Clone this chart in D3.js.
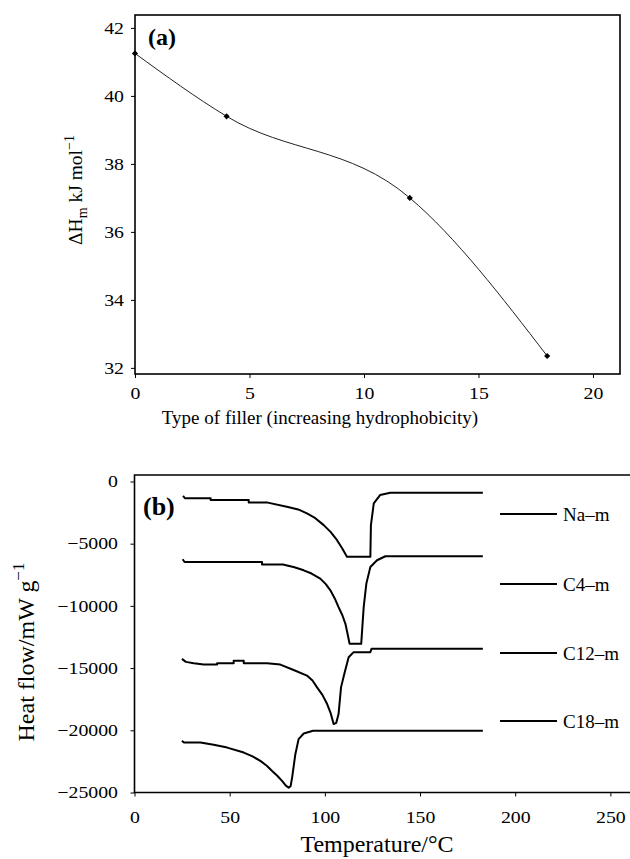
<!DOCTYPE html>
<html>
<head>
<meta charset="utf-8">
<script src="https://cdn.jsdelivr.net/npm/d3@7"></script>
<style>
  body { margin: 0; background: #fff; }
  svg text { font-family: "Liberation Serif", "Times New Roman", serif; fill: #000; }
</style>
</head>
<body>
<div id="chart"></div>
<script>
// panel (a): melting enthalpy vs filler type
const fillerType = [0, 4, 12, 18]
const deltaH = [41.25, 39.4, 37.0, 32.35]
const aTicksX = [0, 5, 10, 15, 20]
const aTicksY = [32, 34, 36, 38, 40, 42]

// panel (b): DSC traces, [temperature, heat flow]
const seriesNames = ['Na–m', 'C4–m', 'C12–m', 'C18–m']
const naM = [[25.5, -1150], [26.5, -1350], [40, -1350], [40, -1490], [60, -1490], [60, -1700], [70, -1700],
  [80, -2030], [86, -2250], [90.6, -2570], [95, -2950], [99.4, -3510], [103, -4050], [106.4, -4720], [109, -5350],
  [111.6, -6060], [123.9, -6060], [124.2, -3500], [125.7, -1760], [129, -1090], [134.4, -900], [183, -900]]
const c4M = [[25.3, -6250], [26.3, -6470], [67, -6470], [67, -6680], [78, -6680], [84, -6900], [88.9, -7140],
  [93, -7400], [97.6, -7810], [100.5, -8250], [102.9, -8750], [105.2, -9400], [107.2, -10100], [109.2, -10750],
  [110.8, -11440], [112, -12300], [113, -13050], [119.1, -13050], [120.4, -10100], [121.8, -8210],
  [123.9, -6870], [127.4, -6330], [131.8, -6010], [183, -6010]]
const c12M = [[24.9, -14260], [27, -14500], [31.1, -14610], [36.4, -14720], [43.4, -14720], [43.4, -14610],
  [52.1, -14610], [52.1, -14420], [57.4, -14420], [57.4, -14610], [69.6, -14610], [76.6, -14720], [83.6, -15150],
  [90.6, -15600], [93.5, -16000], [95.9, -16550], [98.7, -17150], [101.2, -17890], [103, -18600], [104.6, -19500],
  [106, -19400], [107.2, -18700], [108.5, -16550], [110.2, -15470], [112.5, -14130], [115.1, -13720],
  [123.9, -13720], [124.5, -13450], [183, -13450]]
const c18M = [[24.9, -20850], [26, -20980], [34.6, -20980], [41.6, -21170], [48.7, -21390], [57.4, -21790],
  [62, -22100], [66.1, -22460], [69.5, -22850], [72.3, -23270], [75, -23650], [77.5, -24070], [79.5, -24450],
  [81, -24610], [82, -24500], [82.8, -23800], [84.5, -21920], [86.2, -20710], [88.9, -20260], [93.8, -20040],
  [183, -20040]]
const bTicksX = [0, 50, 100, 150, 200, 250]
const bTicksY = [0, -5000, -10000, -15000, -20000, -25000]

const width = 630
const height = 859
const stretch = 1.2 // tick labels in the figure are drawn wide

const svg = d3.select('#chart').append('svg').attr('width', width).attr('height', height)

// widen tick text without moving it
function wideTicks(g, fs) {
  g.select('.domain').remove()
  g.selectAll('text')
    .attr('font-size', fs)
    .attr('font-family', 'Liberation Serif')
    .attr('x', function () { return +d3.select(this).attr('x') / stretch })
    .attr('transform', `scale(${stretch},1)`)
}

// ---------- panel (a)
const xA = d3.scaleLinear().domain([0, 21.18]).range([135, 620])
const yA = d3.scaleLinear().domain([31.82, 42.38]).range([374, 15])

const gA = svg.append('g')

gA.append('rect')
  .attr('x', xA(0)).attr('y', yA(42.38))
  .attr('width', xA(21.18) - xA(0)).attr('height', yA(31.82) - yA(42.38))
  .attr('fill', 'none').attr('stroke', '#000').attr('stroke-width', 1.6)

gA.append('g')
  .attr('transform', `translate(0 ${yA(31.82)})`)
  .call(d3.axisBottom(xA).tickValues(aTicksX).tickSize(4).tickPadding(9).tickFormat(d3.format('d')))
  .call((g) => wideTicks(g, 16.5))

gA.append('g')
  .attr('transform', `translate(${xA(0)} 0)`)
  .call(d3.axisLeft(yA).tickValues(aTicksY).tickSize(4).tickPadding(7).tickFormat(d3.format('d')))
  .call((g) => wideTicks(g, 16.5))

const ptsA = fillerType.map((d, i) => [d, deltaH[i]])

gA.append('path')
  .datum(ptsA)
  .attr('fill', 'none')
  .attr('stroke', '#222')
  .attr('stroke-width', 1)
  .attr('d', d3.line().x((d) => xA(d[0])).y((d) => yA(d[1])).curve(d3.curveMonotoneX))

gA.selectAll('path.mk')
  .data(ptsA)
  .enter()
  .append('path')
  .attr('class', 'mk')
  .attr('transform', (d) => `translate(${xA(d[0])} ${yA(d[1])})`)
  .attr('d', d3.symbol(d3.symbolDiamond2, 24))
  .attr('fill', '#000')

gA.append('text')
  .attr('x', 148).attr('y', 45)
  .attr('font-size', 24).attr('font-weight', 'bold')
  .text('(a)')

gA.append('text')
  .attr('x', 320).attr('y', 424)
  .attr('text-anchor', 'middle')
  .attr('font-size', 19)
  .text('Type of filler (increasing hydrophobicity)')

const yLabA = gA.append('text')
  .attr('transform', 'translate(82 190) rotate(-90)')
  .attr('text-anchor', 'middle')
  .attr('font-size', 19.5)
yLabA.append('tspan').text('ΔH')
yLabA.append('tspan').attr('font-size', 14).attr('dy', 5).text('m')
yLabA.append('tspan').attr('dy', -5).text(' kJ mol')
yLabA.append('tspan').attr('font-size', 14).attr('dy', -8).text('−1')

// ---------- panel (b)
const xB = d3.scaleLinear().domain([0, 260.3]).range([134.5, 630])
const yB = d3.scaleLinear().domain([-25000, 520]).range([792.5, 475])

const gB = svg.append('g')

gB.append('path')
  .attr('d', `M${xB(260.3)},${yB(520)}H${xB(0)}V${yB(-25000)}H${xB(260.3)}`)
  .attr('fill', 'none').attr('stroke', '#000').attr('stroke-width', 1.6)

gB.append('g')
  .attr('transform', `translate(0 ${yB(-25000)})`)
  .call(d3.axisBottom(xB).tickValues(bTicksX).tickSize(4).tickPadding(15).tickFormat(d3.format('d')))
  .call((g) => wideTicks(g, 16.5))

gB.append('g')
  .attr('transform', `translate(${xB(0)} 0)`)
  .call(d3.axisLeft(yB).tickValues(bTicksY).tickSize(4).tickPadding(12.5).tickFormat(d3.format('d')))
  .call((g) => wideTicks(g, 16.5))

const lineB = d3.line().x((d) => xB(d[0])).y((d) => yB(d[1]))

const traces = [naM, c4M, c12M, c18M]

gB.selectAll('path.trace')
  .data(traces)
  .enter()
  .append('path')
  .attr('class', 'trace')
  .attr('fill', 'none')
  .attr('stroke', '#000')
  .attr('stroke-width', 2)
  .attr('stroke-linejoin', 'round')
  .attr('d', lineB)

// legend, offsets
const legendY = [514, 584, 653, 721]
const lg = gB.selectAll('g.lg')
  .data(seriesNames)
  .enter()
  .append('g')
  .attr('class', 'lg')
  .attr('transform', (d, i) => `translate(500 ${legendY[i]})`)
lg.append('line').attr('x1', 0).attr('x2', 57).attr('stroke', '#000').attr('stroke-width', 2)
lg.append('text').attr('x', 63).attr('dy', 7).attr('font-size', 19).text((d) => d)

gB.append('text')
  .attr('x', 143).attr('y', 515)
  .attr('font-size', 26).attr('font-weight', 'bold')
  .text('(b)')

gB.append('text')
  .attr('x', 377).attr('y', 852)
  .attr('text-anchor', 'middle')
  .attr('font-size', 24)
  .text('Temperature/°C')

const yLabB = gB.append('text')
  .attr('transform', 'translate(34 652) rotate(-90)')
  .attr('text-anchor', 'middle')
  .attr('font-size', 24)
yLabB.append('tspan').text('Heat flow/mW g')
yLabB.append('tspan').attr('font-size', 17).attr('dy', -10).text('−1')
</script>
</body>
</html>
